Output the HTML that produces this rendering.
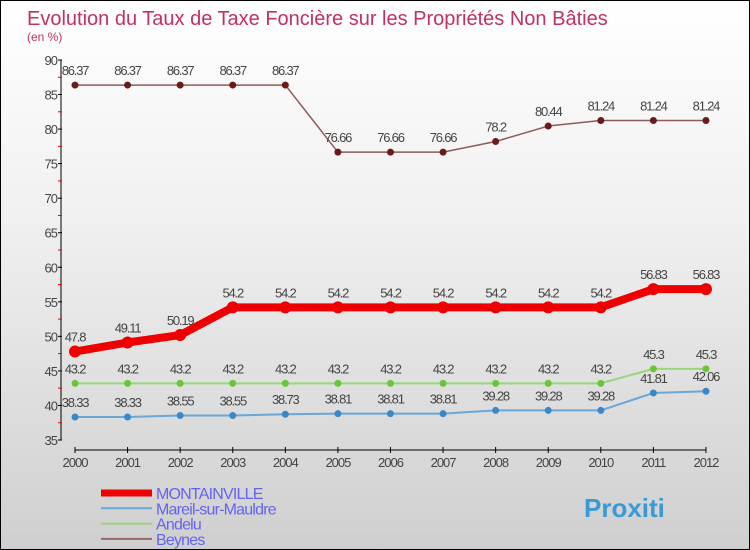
<!DOCTYPE html>
<html><head><meta charset="utf-8"><style>
body{margin:0}
#c{width:748px;height:548px;border:1px solid #000;background:linear-gradient(#ffffff,#f0f0f0 40%,#cfcfcf);position:relative;overflow:hidden;font-family:"Liberation Sans",sans-serif}
svg{position:absolute;left:0;top:0}
</style></head><body>
<div id="c">
<svg id="s" width="748" height="548">
<text x="26" y="24" font-size="20" fill="#c4305f">Evolution du Taux de Taxe Foncière sur les Propriétés Non Bâties</text>
<text x="26" y="40" font-size="12" fill="#c4305f">(en %)</text>
</svg>
</div>
<script>
const years=[2000,2001,2002,2003,2004,2005,2006,2007,2008,2009,2010,2011,2012];
const montainville=[47.8,49.11,50.19,54.2,54.2,54.2,54.2,54.2,54.2,54.2,54.2,56.83,56.83];
const mareil=[38.33,38.33,38.55,38.55,38.73,38.81,38.81,38.81,39.28,39.28,39.28,41.81,42.06];
const andelu=[43.2,43.2,43.2,43.2,43.2,43.2,43.2,43.2,43.2,43.2,43.2,45.3,45.3];
const beynes=[86.37,86.37,86.37,86.37,86.37,76.66,76.66,76.66,78.2,80.44,81.24,81.24,81.24];
const yTicks=[35,40,45,50,55,60,65,70,75,80,85,90];
const s=document.getElementById('s');const NS='http://www.w3.org/2000/svg';
function X(i){return 74+i*52.58}
function Y(v){return 59+(90-v)*6.909}
function el(t,a,p){const e=document.createElementNS(NS,t);for(const k in a)e.setAttribute(k,a[k]);(p||s).appendChild(e);return e}
let e;
e=el('line',{x1:60,y1:Y(90),x2:60,y2:Y(35),stroke:'#000'});


e=el('line',{x1:X(0),y1:449,x2:X(12),y2:449,stroke:'#000'});


yTicks.forEach(v=>{el('line',{x1:57,y1:Y(v),x2:61,y2:Y(v),stroke:'#000'});
 if(v<90)el('line',{x1:57,y1:Y(v+2.5),x2:61,y2:Y(v+2.5),stroke:'#e00'});
 e=el('text',{x:56,y:Y(v)+5,'font-size':13,'text-anchor':'end',fill:'#444','letter-spacing':'-1'});e.textContent=v;
 
 });
years.forEach((y,i)=>{el('line',{x1:X(i),y1:446,x2:X(i),y2:452,stroke:'#000'});
 e=el('text',{x:X(i),y:466,'font-size':13,'text-anchor':'middle',fill:'#444','letter-spacing':'-1'});e.textContent=y;
 
 });
function series(d,col,dot,w,r,name){
 const g=el('g',{});
 el('polyline',{points:d.map((v,i)=>X(i)+','+Y(v)).join(' '),fill:'none',stroke:col,'stroke-width':w,'stroke-linejoin':'round'},g);
 d.forEach((v,i)=>{e=el('circle',{cx:X(i),cy:Y(v),r:r,fill:dot},g);
  
  
  e=el('text',{x:X(i),y:Y(v)-10,'font-size':13,'text-anchor':'middle',fill:'#444','letter-spacing':'-1.2'},g);e.textContent=v;
  
  });
}
series(beynes,'#8b5a5a','#6b1a1a',1.5,3.5,'beynes');
series(andelu,'#99d67a','#6cc43a',2,3.5,'andelu');
series(mareil,'#6aa6d6','#3a88c8',2,3.5,'mareil');
series(montainville,'#ee0000','#ee0000',8,6,'montainville');
const leg=[['MONTAINVILLE','#ee0000',7],['Mareil-sur-Mauldre','#6aa6d6',2],['Andelu','#99d67a',2],['Beynes','#9a6a6a',2]];
leg.forEach((l,i)=>{const y=492+i*15.3;const g=el('g',{});
 
 
 el('line',{x1:100,y1:y,x2:151,y2:y,stroke:l[1],'stroke-width':l[2]},g);
 e=el('text',{x:155,y:y+6,'font-size':16,fill:'#6464f0','letter-spacing':'-0.8'},g);e.textContent=l[0];});
e=el('text',{x:583,y:516,'font-size':26,'font-weight':'bold',fill:'#3a9ad6'});e.textContent='Proxiti';


</script>
</body></html>
